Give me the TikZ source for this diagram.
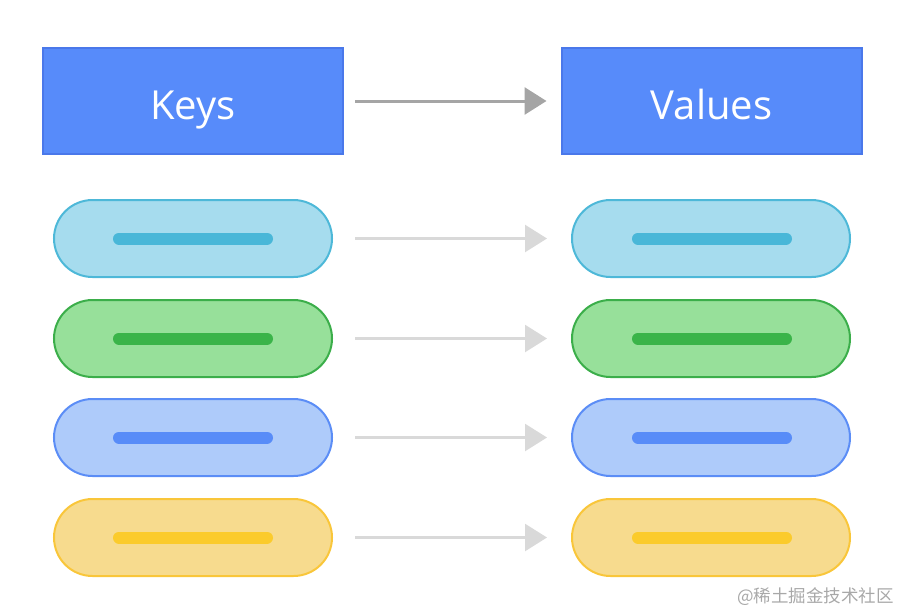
\documentclass[tikz,border=0pt]{standalone}
\usepackage{fontspec}
\setmainfont{Open Sans}
\newfontfamily\cjk{Noto Sans CJK SC}
\usetikzlibrary{arrows.meta}
\definecolor{hdrfill}{HTML}{578BFA}
\definecolor{hdrdraw}{HTML}{4A78EA}
\definecolor{cyfill}{HTML}{A6DCEE}
\definecolor{cydraw}{HTML}{4DB8D8}
\definecolor{cybar}{HTML}{49B7D8}
\definecolor{grfill}{HTML}{97E09A}
\definecolor{grdraw}{HTML}{3BAE4A}
\definecolor{grbar}{HTML}{3AB449}
\definecolor{blfill}{HTML}{AECBFA}
\definecolor{bldraw}{HTML}{5B8DF6}
\definecolor{blbar}{HTML}{588CF8}
\definecolor{yefill}{HTML}{F7DB8E}
\definecolor{yedraw}{HTML}{F9C63A}
\definecolor{yebar}{HTML}{FBCB2C}
\definecolor{arrdark}{HTML}{A5A5A5}
\definecolor{arrlight}{HTML}{D9D9D9}
\definecolor{wmark}{HTML}{A8A8A8}
\tikzset{
  hdrbox/.style={draw=hdrdraw, fill=hdrfill, line width=2pt, minimum width=300pt, minimum height=106pt, inner sep=0pt, text=white, text height=40pt, text depth=4pt, font=\fontsize{40}{46}\selectfont},
  pillbox/.style={line width=2pt, minimum width=278pt, minimum height=77pt, rounded corners=38.5pt, inner sep=0pt},
  barline/.style={line width=12pt, line cap=round},
  maparrow/.style={line width=2.5pt, -{Triangle[width=27pt,length=22pt]}},
}
\begin{document}
\begin{tikzpicture}[x=1pt,y=-1pt]
\useasboundingbox (0,0) rectangle (900,613);
\node[hdrbox] (keys) at (193,101) {Keys};
\node[hdrbox] (vals) at (711.5,101) {Values};
\draw[maparrow, arrdark, line width=3pt, shorten <=11pt, shorten >=14pt] (keys.east) -- (vals.west);
\foreach \n/\y/\c in {1/238.5/cy, 2/338.5/gr, 3/437.5/bl, 4/537.5/ye}{
  \node[pillbox, draw=\c draw, fill=\c fill] (k\n) at (193,\y) {};
  \node[pillbox, draw=\c draw, fill=\c fill] (v\n) at (711,\y) {};
  \coordinate (kbl\n) at (119,\y);
  \coordinate (kbr\n) at (267,\y);
  \coordinate (vbl\n) at (638,\y);
  \coordinate (vbr\n) at (786,\y);
  \draw[barline, \c bar] (kbl\n) -- (kbr\n);
  \draw[barline, \c bar] (vbl\n) -- (vbr\n);
  \draw[maparrow, arrlight, shorten <=22pt, shorten >=24pt] (k\n.east) -- (v\n.west);
}
\node[anchor=east, text=wmark, inner sep=0pt, font=\cjk\fontsize{17.5}{19}\selectfont] (wm) at (894,597) {@稀土掘金技术社区};
\end{tikzpicture}
\end{document}
